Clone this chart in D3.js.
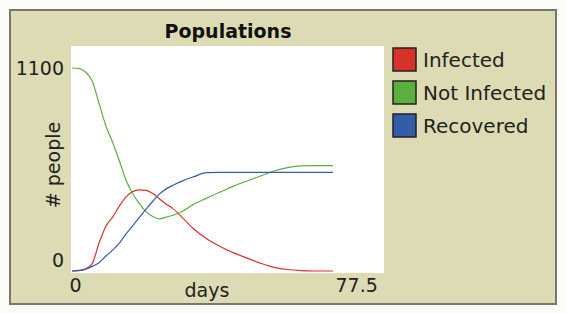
<!DOCTYPE html>
<html>
<head>
<meta charset="utf-8">
<script src="https://cdn.jsdelivr.net/npm/d3@7"></script>
<style>
  body { margin: 0; background: #fbfbf7; }
  svg { display: block; }
</style>
</head>
<body>
<script>
const width = 566;
const height = 313;

// data
const days = [0, 2, 4, 6, 8, 10, 12, 14, 16, 18, 20, 22, 24, 26, 28, 30, 33, 36, 40, 44, 48, 52, 56, 60, 64, 68, 72, 77.5];
const infected = [0, 3, 10, 40, 150, 240, 290, 350, 400, 430, 440, 437, 420, 390, 362, 338, 285, 230, 175, 133, 98, 70, 42, 20, 8, 2, 0, 0];
const notInfected = [1100, 1098, 1078, 1030, 910, 790, 700, 600, 495, 420, 365, 322, 295, 282, 292, 302, 325, 360, 395, 428, 460, 488, 515, 542, 560, 570, 571, 571];
const recovered = [0, 2, 10, 25, 45, 80, 112, 150, 200, 245, 290, 335, 378, 418, 445, 465, 490, 510, 533, 534, 534, 534, 534, 534, 534, 534, 534, 534];

const seriesNames = ["Infected", "Not Infected", "Recovered"];
const seriesColors = ["#d73229", "#59b03c", "#345da9"];
const xTicks = [0, 77.5];
const yTicks = [0, 1100];

const font = "'DejaVu Sans', Tahoma, sans-serif";

let svg = d3.select("body").append("svg")
    .attr("width", width)
    .attr("height", height);

// panel
svg.append("rect")
    .attr("x", 10).attr("y", 10)
    .attr("width", 546).attr("height", 294)
    .attr("fill", "#dcdbb3")
    .attr("stroke", "#77776c")
    .attr("stroke-width", 2);

// plot area
svg.append("rect")
    .attr("x", 71).attr("y", 46)
    .attr("width", 313).attr("height", 227)
    .attr("fill", "#ffffff");

svg.append("text")
    .attr("x", 228).attr("y", 38)
    .attr("text-anchor", "middle")
    .style("font-family", font)
    .style("font-weight", "bold")
    .style("font-size", "19px")
    .attr("fill", "#111")
    .text("Populations");

let xScale = d3.scaleLinear()
    .domain([0, 77.5])
    .range([72, 333]);

let yScale = d3.scaleLinear()
    .domain([0, 1100])
    .range([271, 68]);

let xAxis = svg.append("g")
    .attr("transform", "translate(0,273)")
    .call(d3.axisBottom(xScale).tickValues(xTicks).tickSize(0).tickPadding(6)
        .tickFormat(d => d === 0 ? "0" : d3.format(".1f")(d)));
xAxis.select(".domain").remove();
xAxis.selectAll("text")
    .style("font-family", font)
    .style("font-size", "19px")
    .attr("fill", "#222")
    .attr("text-anchor", d => d === 0 ? "middle" : "start")
    .attr("dx", d => d === 0 ? "3" : "2");

let yAxis = svg.append("g")
    .attr("transform", "translate(68,0)")
    .call(d3.axisLeft(yScale).tickValues(yTicks).tickSize(0).tickPadding(4)
        .tickFormat(d3.format("d")));
yAxis.select(".domain").remove();
yAxis.selectAll("text")
    .style("font-family", font)
    .style("font-size", "19px")
    .attr("fill", "#222")
    .attr("dy", d => d === 0 ? "-0.25em" : "0.35em");

svg.append("text")
    .attr("x", 207).attr("y", 297)
    .attr("text-anchor", "middle")
    .style("font-family", font)
    .style("font-size", "19px")
    .attr("fill", "#222")
    .text("days");

svg.append("text")
    .attr("transform", "translate(60,165) rotate(-90)")
    .attr("text-anchor", "middle")
    .style("font-family", font)
    .style("font-size", "19px")
    .attr("fill", "#222")
    .text("# people");

const allSeries = [infected, notInfected, recovered];

let line = d3.line()
    .x((d, i) => xScale(days[i]))
    .y(d => yScale(d))
    .curve(d3.curveMonotoneX);

svg.selectAll(".series")
    .data(allSeries)
    .enter()
    .append("path")
    .attr("class", "series")
    .attr("d", d => line(d))
    .attr("fill", "none")
    .attr("stroke", (d, i) => seriesColors[i])
    .attr("stroke-width", 1.2);

// legend
let legend = svg.selectAll(".legend")
    .data(seriesNames)
    .enter()
    .append("g")
    .attr("class", "legend")
    .attr("transform", (d, i) => `translate(393,${48 + i * 33})`);

legend.append("rect")
    .attr("width", 23).attr("height", 23)
    .attr("fill", (d, i) => seriesColors[i])
    .attr("stroke", "#222")
    .attr("stroke-width", 1.5);

legend.append("text")
    .attr("x", 30).attr("y", 19)
    .style("font-family", font)
    .style("font-size", "20px")
    .attr("fill", "#222")
    .text(d => d);
</script>
</body>
</html>
